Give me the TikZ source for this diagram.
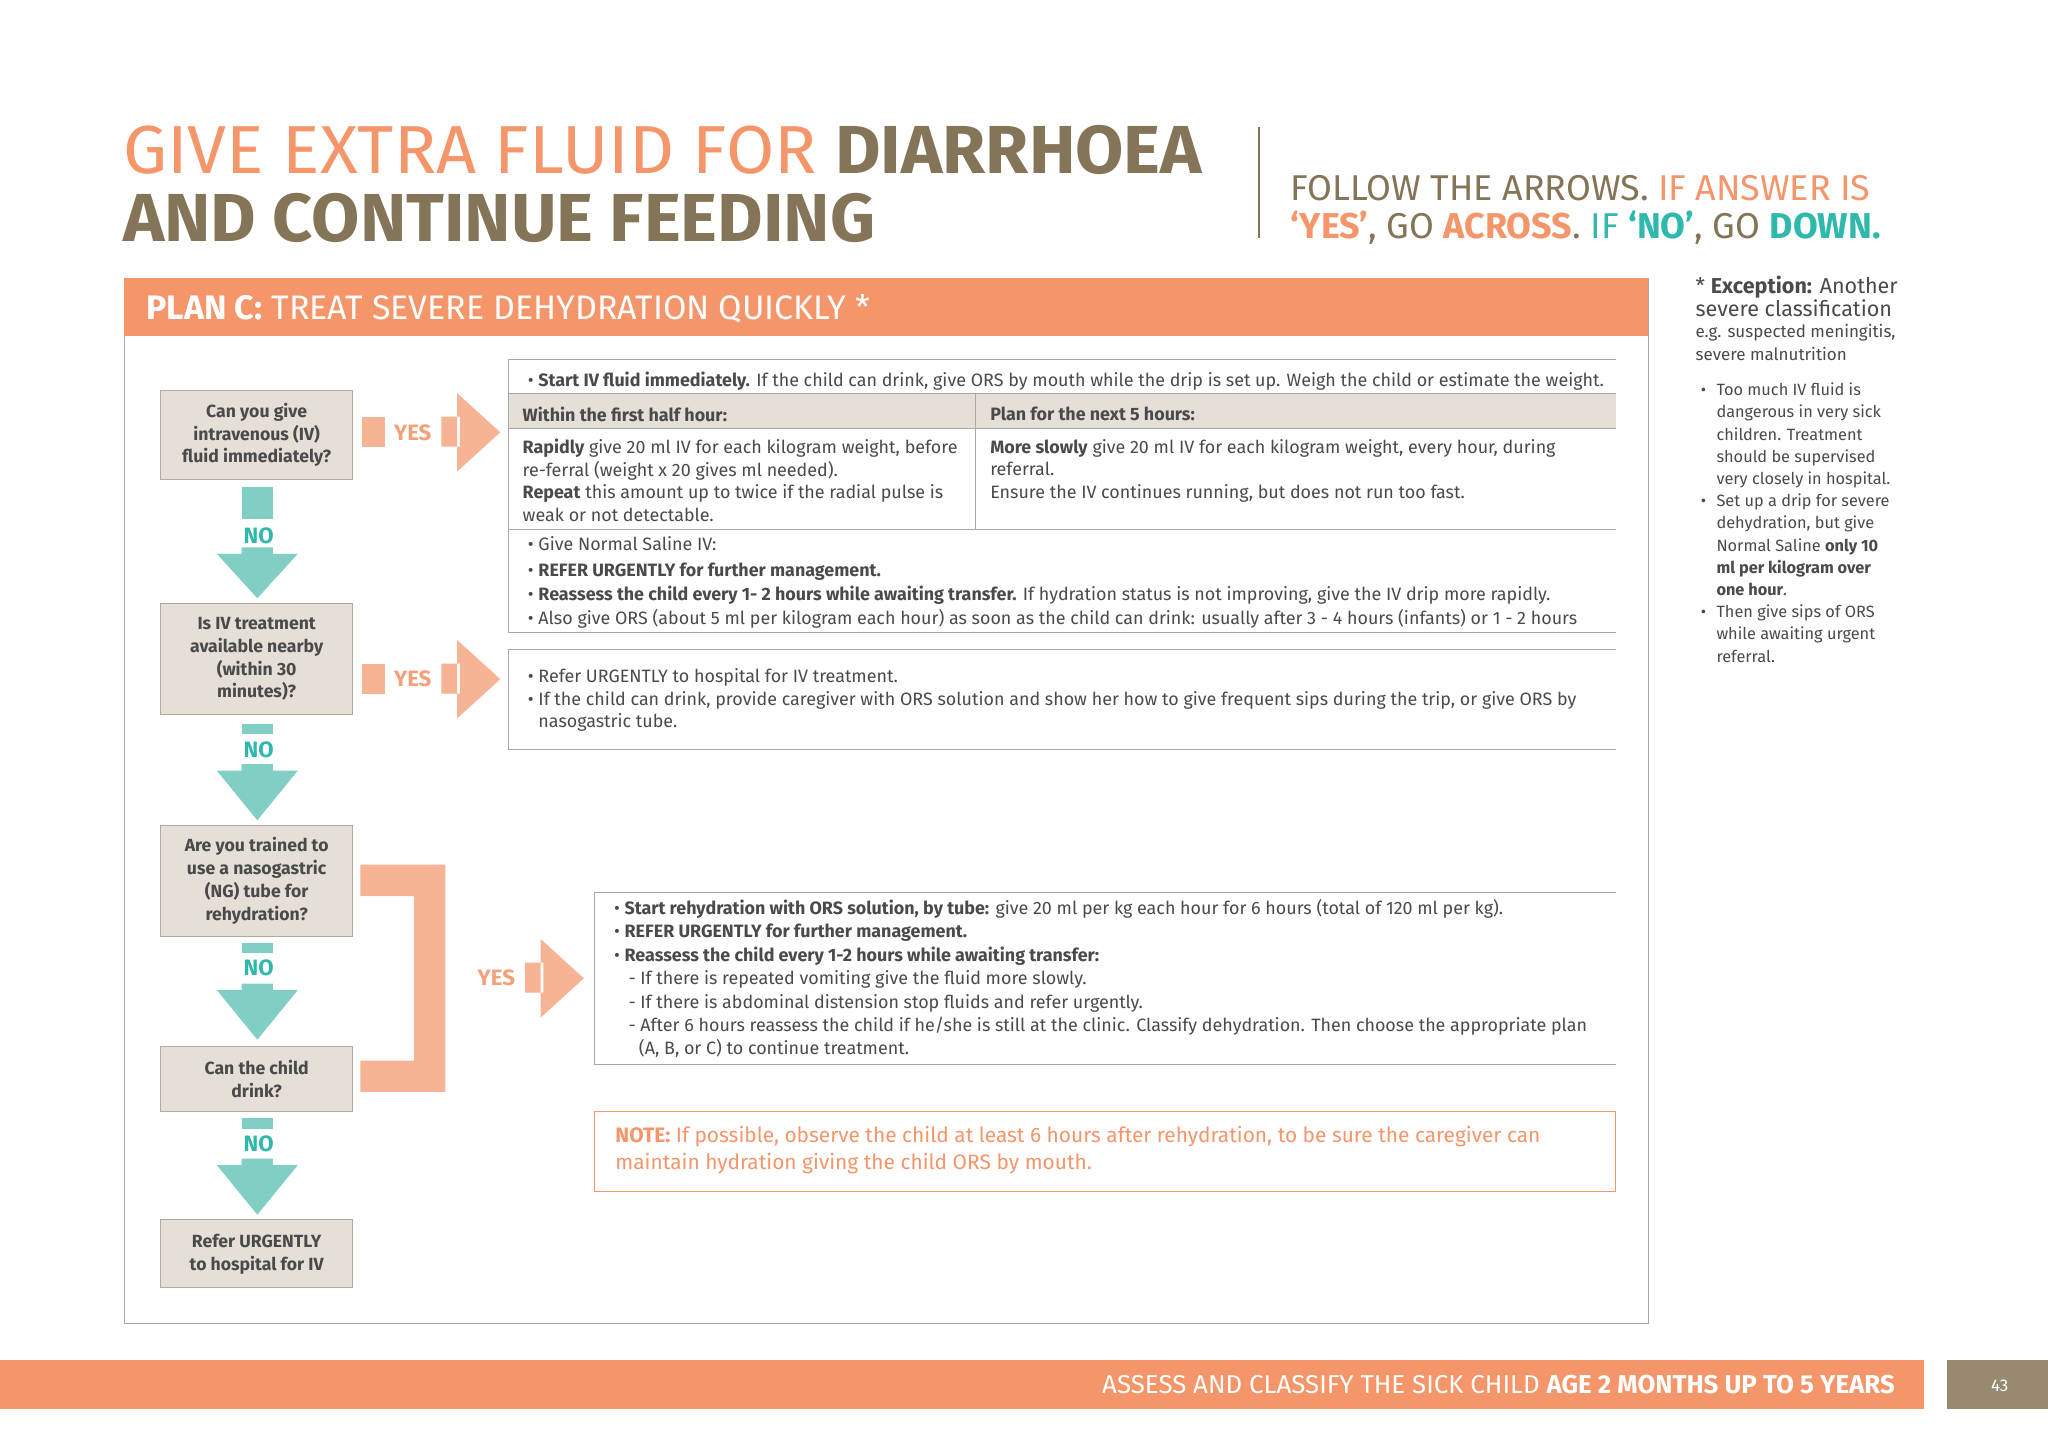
\documentclass[tikz,border=0pt]{standalone}
\usepackage{fontspec}
\setmainfont{Fira Sans}
\definecolor{org}{HTML}{F4956A}
\definecolor{lorg}{HTML}{F7B494}
\definecolor{brn}{HTML}{857558}
\definecolor{teal}{HTML}{2FB8AC}
\definecolor{lteal}{HTML}{80CEC4}
\definecolor{qbox}{HTML}{E5DFD7}
\definecolor{qbrd}{HTML}{B3AB9F}
\definecolor{txt}{HTML}{4A4A4A}
\definecolor{hdr}{HTML}{E5DFD7}
\definecolor{frm}{HTML}{A8A8A8}
\begin{document}
\begin{tikzpicture}[x=1pt,y=-1pt,
 body/.style={anchor=west,inner sep=0pt,text=txt,font=\fontsize{13.7}{17.3}\selectfont},
 sb/.style={anchor=west,inner sep=0pt,text=txt,font=\fontsize{12.5}{17}\selectfont},
 qtxt/.style={text=txt,font=\bfseries\fontsize{13.5}{17.5}\selectfont,align=center},
 notxt/.style={text=teal,font=\bfseries\fontsize{17}{17}\selectfont},
 yestxt/.style={text=org!90,font=\bfseries\fontsize{17}{17}\selectfont},
 line/.style={draw=frm,line width=0.6pt}]
\useasboundingbox (0,0) rectangle (1568,1109);
\fill[white] (0,0) rectangle (1568,1109);
% title
\node (ti1) [anchor=west,inner sep=0pt,font=\fontsize{52}{52}\selectfont] at (94,115) {\addfontfeature{FakeStretch=1.03}\textcolor{org}{GIVE EXTRA FLUID FOR} \textcolor{brn}{\bfseries DIARRHOEA}};
\node (ti2) [anchor=west,inner sep=0pt,font=\bfseries\fontsize{52}{52}\selectfont,text=brn] at (94,167) {\addfontfeature{FakeStretch=1.03}AND CONTINUE FEEDING};
\draw[brn,line width=1pt] (964,97) -- (964,182);
\node (fa1) [anchor=west,inner sep=0pt,font=\fontsize{27.5}{27.5}\selectfont] at (988,144) {\textcolor{brn}{FOLLOW THE ARROWS.} \textcolor{org}{IF ANSWER IS}};
\node (fa2) [anchor=west,inner sep=0pt,font=\fontsize{27.5}{27.5}\selectfont] at (988,174) {\textcolor{org}{\bfseries ‘YES’}\textcolor{brn}{, GO} \textcolor{org}{\bfseries ACROSS}\textcolor{brn}{.} \textcolor{teal}{IF} \textcolor{teal}{\bfseries ‘NO’}\textcolor{brn}{, GO} \textcolor{teal}{\bfseries DOWN.}};
% frame
\draw[line] (95,213) rectangle (1262,1013);
\fill[org] (95,213) rectangle (1262,257);
\node (pl) [anchor=west,inner sep=0pt,text=white,font=\fontsize{26}{26}\selectfont] at (112,236) {\bfseries PLAN C:\mdseries\ TREAT SEVERE DEHYDRATION QUICKLY *};
% question boxes
\foreach \n/\ya/\yb/\t in {q1/299/367/{Can you give\\intravenous (IV)\\fluid immediately?},
 q2/462/547/{Is IV treatment\\available nearby\\(within 30\\minutes)?},
 q3/632/717/{Are you trained to\\use a nasogastric\\(NG) tube for\\rehydration?},
 q4/801/851/{Can the child\\drink?},
 q5/934/986/{Refer URGENTLY\\to hospital for IV}}{
 \draw[fill=qbox,draw=qbrd,line width=0.8pt] (123,\ya) rectangle (270,\yb);
 \node (\n) [qtxt] at (196.5,{(\ya+\yb)/2}) {\t};
}
% NO arrows
\foreach \n/\sa/\sb/\ny/\ha/\hb in {n1/373/397/410/424/458, n2/554/562/574/590/628, n3/722/730/741/758/796, n4/856/864/876/892/930}{
 \fill[lteal] (185,\sa) rectangle (209,\sb);
 \node (\n) [notxt] at (198,\ny) {NO};
 \fill[lteal] (185,\ha-5) rectangle (209,\ha) (166,\ha) -- (228,\ha) -- (197,\hb) -- cycle;
}
% YES arrows
\foreach \n/\y in {y1/331,y2/520}{
 \fill[lorg] (277,\y-12) rectangle (295,\y+11);
 \node (\n) [yestxt] at (316,\y) {YES};
 \fill[lorg] (338,\y-12) rectangle (352,\y+11) (350,\y-30) -- (383,\y) -- (350,\y+30) -- cycle;
}
\fill[lorg] (276,662) -- (341,662) -- (341,836) -- (276,836) -- (276,812) -- (317,812) -- (317,686) -- (276,686) -- cycle;
\node (y3) [yestxt] at (380,749) {YES};
\fill[lorg] (402,737) rectangle (416,760) (414,719) -- (447,749) -- (414,779) -- cycle;
% box A
\fill[hdr] (389,301) rectangle (1237,328);
\draw[line] (1237,275) -- (389,275) -- (389,484) -- (1237,484);
\draw[line] (389,301) -- (1237,301) (389,328) -- (1237,328) (389,405) -- (1237,405) (747,301) -- (747,405);
\node (a1) [body] at (404,292) {• \textbf{Start IV fluid immediately.} If the child can drink, give ORS by mouth while the drip is set up. Weigh the child or estimate the weight.};
\node (a2) [body] at (400,317) {\textbf{Within the first half hour:}};
\node (a3) [body] at (758,317) {\textbf{Plan for the next 5 hours:}};
\node (a4) [body,anchor=north west,align=left] at (400,336) {\textbf{Rapidly} give 20 ml IV for each kilogram weight, before\\re-ferral (weight x 20 gives ml needed).\\\textbf{Repeat} this amount up to twice if the radial pulse is\\weak or not detectable.};
\node (a5) [body,anchor=north west,align=left] at (758,336) {\textbf{More slowly} give 20 ml IV for each kilogram weight, every hour, during\\referral.\\Ensure the IV continues running, but does not run too fast.};
\node (a6) [body] at (404,416) {• Give Normal Saline IV:};
\node (a7) [body] at (404,438) {• \textbf{REFER URGENTLY for further management.}};
\node (a8) [body] at (404,456) {• \textbf{Reassess the child every 1- 2 hours while awaiting transfer.} If hydration status is not improving, give the IV drip more rapidly.};
\node (a9) [body] at (404,474) {• Also give ORS (about 5 ml per kilogram each hour) as soon as the child can drink: usually after 3 - 4 hours (infants) or 1 - 2 hours};
% box B
\draw[line] (1237,497) -- (389,497) -- (389,574) -- (1237,574);
\node (b1) [body] at (404,519) {• Refer URGENTLY to hospital for IV treatment.};
\node (b2) [body,anchor=north west,align=left] at (404,529) {• If the child can drink, provide caregiver with ORS solution and show her how to give frequent sips during the trip, or give ORS by\\\hphantom{• }nasogastric tube.};
% box C
\draw[line] (1237,683) -- (455,683) -- (455,815) -- (1237,815);
\node (c1) [body] at (470,696) {• \textbf{Start rehydration with ORS solution, by tube:} give 20 ml per kg each hour for 6 hours (total of 120 ml per kg).};
\node (c2) [body] at (470,714) {• \textbf{REFER URGENTLY for further management.}};
\node (c3) [body] at (470,732) {• \textbf{Reassess the child every 1-2 hours while awaiting transfer:}};
\node (c4) [body] at (481,750) {- If there is repeated vomiting give the fluid more slowly.};
\node (c5) [body] at (481,768) {- If there is abdominal distension stop fluids and refer urgently.};
\node (c6) [body] at (481,786) {- After 6 hours reassess the child if he/she is still at the clinic. Classify dehydration. Then choose the appropriate plan};
\node (c7) [body] at (489,803) {(A, B, or C) to continue treatment.};
% note
\draw[draw=org,line width=0.8pt] (455,851) rectangle (1237,912);
\node (nt) [anchor=north west,inner sep=0pt,text=org,align=left,font=\fontsize{16}{21}\selectfont] at (471,862) {\textbf{NOTE:} If possible, observe the child at least 6 hours after rehydration, to be sure the caregiver can\\maintain hydration giving the child ORS by mouth.};
% side notes
\node (s1) [anchor=north west,inner sep=0pt,text=txt,align=left,font=\fontsize{16.5}{18}\selectfont] at (1298,211) {* \textbf{Exception:} Another\\severe classification};
\node (s2) [anchor=north west,inner sep=0pt,text=txt,align=left,font=\fontsize{13}{18}\selectfont] at (1298,248) {e.g. suspected meningitis,\\severe malnutrition};
\node (sb1) [sb] at (1302,300) {•};
\node (sb2) [sb] at (1302,385) {•};
\node (sb3) [sb] at (1302,470) {•};
\node (s4) [anchor=north west,inner sep=0pt,text=txt,align=left,font=\fontsize{12.5}{17}\selectfont] at (1314,293) {Too much IV fluid is\\dangerous in very sick\\children. Treatment\\should be supervised\\very closely in hospital.\\Set up a drip for severe\\dehydration, but give\\Normal Saline \textbf{only 10}\\\textbf{ml per kilogram over}\\\textbf{one hour}.\\Then give sips of ORS\\while awaiting urgent\\referral.};
% footer
\fill[org] (0,1041) rectangle (1473,1079);
\node (ft) [anchor=east,inner sep=0pt,text=white,font=\fontsize{19.8}{19.8}\selectfont] at (1451,1060) {ASSESS AND CLASSIFY THE SICK CHILD \textbf{AGE 2 MONTHS UP TO 5 YEARS}};
\fill[brn!85] (1491,1041) rectangle (1568,1079);
\node (pg) [text=white,font=\fontsize{13}{13}\selectfont] at (1531,1061) {43};
\end{tikzpicture}
\end{document}
